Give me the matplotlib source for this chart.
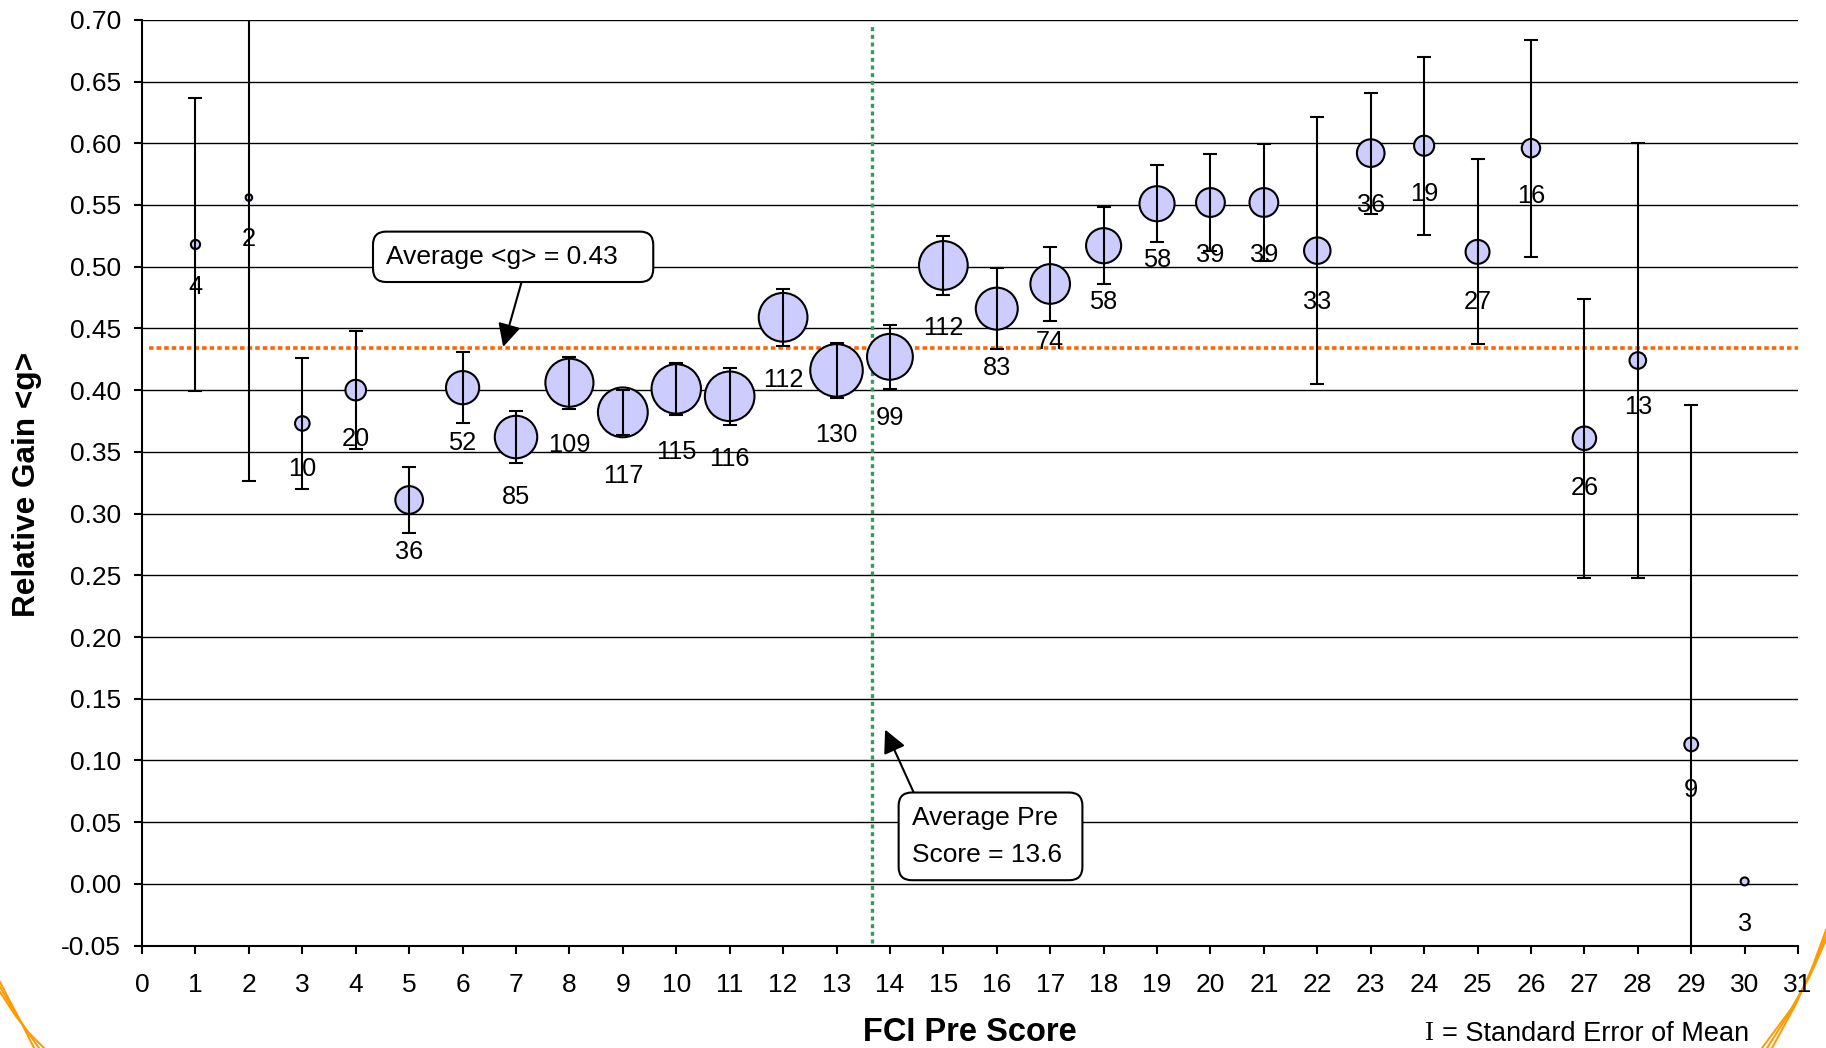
import numpy as np
import matplotlib.pyplot as plt
from matplotlib.ticker import FormatStrFormatter

plt.rcParams['font.family'] = ['Liberation Sans', 'DejaVu Sans']

# FCI pre score bins
pre_score = [1, 2, 3, 4, 5, 6, 7, 8, 9, 10, 11, 12, 13, 14, 15,
             16, 17, 18, 19, 20, 21, 22, 23, 24, 25, 26, 27, 28, 29, 30]
# relative gain <g>
gain = [0.518, 0.556, 0.373, 0.400, 0.311, 0.402, 0.362, 0.406, 0.382, 0.401,
        0.395, 0.459, 0.416, 0.427, 0.501, 0.466, 0.486, 0.517, 0.551, 0.552,
        0.552, 0.513, 0.592, 0.598, 0.512, 0.596, 0.361, 0.424, 0.113, 0.002]
# standard error of mean (nan = no bar)
sem = [0.119, 0.230, 0.053, 0.048, 0.027, 0.029, 0.021, 0.021, 0.018, 0.021,
       0.023, 0.023, 0.022, 0.026, 0.024, 0.033, 0.030, 0.031, 0.031, 0.039,
       0.047, 0.108, 0.049, 0.072, 0.075, 0.088, 0.113, 0.176, 0.275, np.nan]
# number of students
n_stud = [4, 2, 10, 20, 36, 52, 85, 109, 117, 115, 116, 112, 130, 99, 112,
          83, 74, 58, 58, 39, 39, 33, 36, 19, 27, 16, 26, 13, 9, 3]

avg_g = 0.434
avg_pre = 13.67
y_ticks = [-0.05, 0.0, 0.05, 0.10, 0.15, 0.20, 0.25, 0.30, 0.35,
           0.40, 0.45, 0.50, 0.55, 0.60, 0.65, 0.70]
x_ticks = list(range(0, 32))

x = np.array(pre_score)
g = np.array(gain)
se = np.array(sem)
n = np.array(n_stud)

fig = plt.figure(figsize=(18.26, 10.48), dpi=100)
ax = fig.add_axes([0.0778, 0.0977, 0.9069, 0.8834])

sizes = n * 11.0
ax.scatter(x, g, s=sizes, c='#CCCCFF', edgecolors='black', linewidths=1.5, zorder=3)
m = ~np.isnan(se)
ax.errorbar(x[m], g[m], yerr=se[m], fmt='none', ecolor='black', elinewidth=1.5,
            capsize=5.3, capthick=1.5, zorder=4)

for xi, gi, ni, si in zip(x, g, n, sizes):
    r = np.sqrt(si) / 2
    ax.annotate(str(ni), (xi, gi), xytext=(0, -(r + 27.6)), textcoords='offset points',
                ha='center', va='center', fontsize=18.3, zorder=5)

# reference lines
ax.plot([0.13, 31], [avg_g, avg_g], color='#FF6600', lw=2.6,
        linestyle=(0, (1.25, 0.85)), zorder=2)
ax.plot([avg_pre, avg_pre], [-0.048, 0.695], color='#339966', lw=2.4,
        linestyle=(0, (1.2, 1.1)), zorder=2)

box = dict(boxstyle='round,pad=0.5,rounding_size=0.5', fc='white', ec='black', lw=1.5)
ax.annotate('Average <g> = 0.43   ', xy=(6.76, 0.435), xytext=(4.57, 0.508),
            ha='left', va='center', fontsize=19, bbox=box, zorder=6,
            arrowprops=dict(arrowstyle='-|>,head_length=0.4,head_width=0.2',
                            mutation_scale=35, color='black', lw=1.5,
                            relpos=(0.548, 0), shrinkA=0, shrinkB=0))
ax.annotate('Average Pre\nScore = 13.6 ', xy=(13.91, 0.125), xytext=(14.41, 0.0385),
            ha='left', va='center', fontsize=19, linespacing=1.7, bbox=box, zorder=6,
            arrowprops=dict(arrowstyle='-|>,head_length=0.4,head_width=0.2',
                            mutation_scale=35, color='black', lw=1.5,
                            relpos=(0.05, 1), shrinkA=0, shrinkB=0))

ax.set_xlim(0, 31)
ax.set_ylim(-0.05, 0.70)
ax.set_xticks(x_ticks)
ax.set_yticks(y_ticks)
ax.yaxis.set_major_formatter(FormatStrFormatter('%.2f'))
ax.grid(axis='y', color='black', lw=1.0, zorder=0)
ax.set_axisbelow(True)
for s in ['top', 'right']:
    ax.spines[s].set_visible(False)
for s in ['left', 'bottom']:
    ax.spines[s].set_linewidth(1.5)
ax.tick_params(axis='both', direction='out', length=6, width=1.5, labelsize=19)
ax.tick_params(axis='y', pad=9)
ax.tick_params(axis='x', pad=13.5)

fig.text(0.531, 0.0152, 'FCI Pre Score', fontsize=23.5, fontweight='bold',
         ha='center', va='center')
fig.text(0.0147, 0.5377, 'Relative Gain <g>', fontsize=22.7, fontweight='bold',
         ha='center', va='center', rotation=90)
fig.text(0.7824, 0.0138, 'I', family='Liberation Serif', fontsize=19.5, ha='center', va='center')
fig.text(0.7897, 0.0138, '= Standard Error of Mean', fontsize=19.5, ha='left', va='center')

# slide decoration in corners
deco = fig.add_axes([0, 0, 1, 1], zorder=-1)
deco.set_xlim(0, 1826)
deco.set_ylim(1048, 0)
deco.axis('off')
for d in [0, 5, 10]:
    deco.plot([0, 12 + d * 0.3, 24 + d * 0.5, 34 + d], [982 + d, 1005 + d, 1028 + d * 0.5, 1048],
              color='#FF9900', lw=1.4)
    deco.plot([1826, 1812 - d * 0.3, 1796 - d * 0.5, 1772 - d], [930 + d, 968 + d, 1004 + d * 0.5, 1048],
              color='#FF9900', lw=1.4)

fig.savefig('out.png', dpi=100)
